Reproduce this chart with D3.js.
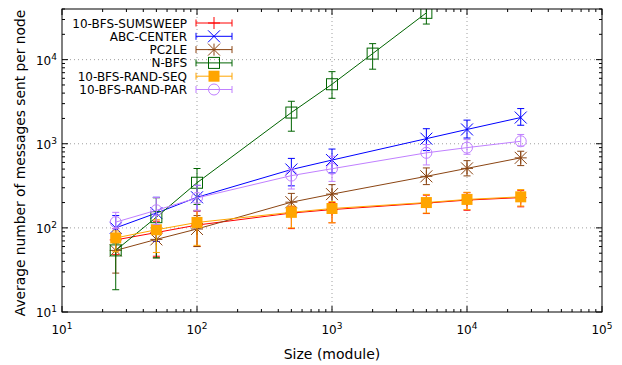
<!DOCTYPE html>
<html>
<head>
<meta charset="utf-8">
<script src="https://cdn.jsdelivr.net/npm/d3@7"></script>
<style>
  body { margin: 0; background: #fff; }
  svg { font-family: "DejaVu Sans", sans-serif; }
</style>
</head>
<body>
<div id="chart"></div>
<script>
// Sizes (module) used for each series
const sizes = [25, 50, 100, 500, 1000, 5000, 10000, 25000];
const sizesNbfs = [25, 50, 100, 500, 1000, 2000, 5000];

// Average messages per node, with error bar low / high
const sumsweep = [72, 88, 108, 150, 165, 197, 214, 229];
const sumsweepLo = [48, 46, 60, 98, 115, 148, 162, 178];
const sumsweepHi = [98, 120, 158, 178, 200, 245, 262, 280];

const abcCenter = [100, 150, 231, 494, 640, 1150, 1480, 2050];
const abcCenterLo = [75, 69, 160, 316, 450, 830, 1170, 1660];
const abcCenterHi = [140, 231, 320, 670, 865, 1510, 1910, 2620];

const pc2le = [54, 73, 97, 202, 252, 410, 510, 680];
const pc2leLo = [29, 44, 60, 152, 190, 327, 415, 550];
const pc2leHi = [75, 100, 140, 257, 327, 516, 630, 815];

const nbfs = [54, 134, 344, 2350, 5100, 11800, 36000];
const nbfsLo = [18.4, 44, 190, 1410, 3470, 7700, 26500];
const nbfsHi = [66, 228, 508, 3200, 7200, 15500, 45000];

const randSeq = [76, 95, 116, 153, 170, 200, 218, 234];
const randSeqLo = [52, 51, 62, 100, 115, 150, 165, 182];
const randSeqHi = [92, 125, 162, 182, 205, 250, 265, 285];

const randPar = [117, 162, 227, 418, 505, 780, 900, 1070];
const randParLo = [98, 110, 160, 290, 357, 560, 750, 940];
const randParHi = [153, 230, 320, 510, 710, 980, 1120, 1290];

const xTicks = [10, 100, 1000, 10000, 100000];
const yTicks = [10, 100, 1000, 10000];

const series = [
  { name: '10-BFS-SUMSWEEP', color: '#ff0000', pt: 'plus', x: sizes, y: sumsweep, lo: sumsweepLo, hi: sumsweepHi },
  { name: 'ABC-CENTER', color: '#0000ff', pt: 'cross', x: sizes, y: abcCenter, lo: abcCenterLo, hi: abcCenterHi },
  { name: 'PC2LE', color: '#8b4513', pt: 'star', x: sizes, y: pc2le, lo: pc2leLo, hi: pc2leHi },
  { name: 'N-BFS', color: '#006400', pt: 'square', x: sizesNbfs, y: nbfs, lo: nbfsLo, hi: nbfsHi },
  { name: '10-BFS-RAND-SEQ', color: '#ffa500', pt: 'fsquare', x: sizes, y: randSeq, lo: randSeqLo, hi: randSeqHi },
  { name: '10-BFS-RAND-PAR', color: '#c080ff', pt: 'circle', x: sizes, y: randPar, lo: randParLo, hi: randParHi },
];

const width = 622, height = 365;
const mLeft = 62, mRight = 602, mTop = 9, mBottom = 312;

const svg = d3.select('#chart').append('svg')
  .attr('width', width).attr('height', height);

const x = d3.scaleLog().domain([10, 100000]).range([mLeft, mRight]);
const y = d3.scaleLog().domain([10, 40000]).range([mBottom, mTop]);

// grid
const grid = svg.append('g').attr('stroke', '#a0a0a0').attr('stroke-dasharray', '1,3').attr('stroke-width', 1);
xTicks.slice(1, -1).forEach(t => {
  grid.append('line').attr('x1', x(t)).attr('x2', x(t)).attr('y1', mTop).attr('y2', mBottom);
});
yTicks.slice(1).forEach(t => {
  grid.append('line').attr('x1', mLeft).attr('x2', mRight).attr('y1', y(t)).attr('y2', y(t));
});

// ticks (inward, mirrored)
const tickG = svg.append('g').attr('stroke', '#000').attr('stroke-width', 1);
const xMinor = [];
for (let d = 10; d < 100000; d *= 10) for (let k = 2; k <= 9; k++) xMinor.push(d * k);
const yMinor = [];
for (let d = 10; d < 40000; d *= 10) for (let k = 2; k <= 9; k++) if (d * k <= 40000) yMinor.push(d * k);

xTicks.forEach(t => {
  tickG.append('line').attr('x1', x(t)).attr('x2', x(t)).attr('y1', mBottom).attr('y2', mBottom - 6);
  tickG.append('line').attr('x1', x(t)).attr('x2', x(t)).attr('y1', mTop).attr('y2', mTop + 6);
});
xMinor.forEach(t => {
  tickG.append('line').attr('x1', x(t)).attr('x2', x(t)).attr('y1', mBottom).attr('y2', mBottom - 3);
  tickG.append('line').attr('x1', x(t)).attr('x2', x(t)).attr('y1', mTop).attr('y2', mTop + 3);
});
yTicks.forEach(t => {
  tickG.append('line').attr('x1', mLeft).attr('x2', mLeft + 6).attr('y1', y(t)).attr('y2', y(t));
  tickG.append('line').attr('x1', mRight).attr('x2', mRight - 6).attr('y1', y(t)).attr('y2', y(t));
});
yMinor.forEach(t => {
  tickG.append('line').attr('x1', mLeft).attr('x2', mLeft + 3).attr('y1', y(t)).attr('y2', y(t));
  tickG.append('line').attr('x1', mRight).attr('x2', mRight - 3).attr('y1', y(t)).attr('y2', y(t));
});

// tick labels with superscripts
function powLabel(g, v) {
  const e = Math.round(Math.log10(v));
  g.append('tspan').text('10');
  g.append('tspan').attr('dy', -5).attr('font-size', 9).text(e);
}
xTicks.forEach(t => {
  const tx = svg.append('text').attr('x', x(t)).attr('y', 334)
    .attr('text-anchor', 'middle').attr('font-size', 12);
  powLabel(tx, t);
});
yTicks.forEach(t => {
  const tx = svg.append('text').attr('x', 57).attr('y', y(t) + 5)
    .attr('text-anchor', 'end').attr('font-size', 12);
  powLabel(tx, t);
});

// axis labels
svg.append('text').attr('x', (mLeft + mRight) / 2).attr('y', 359)
  .attr('text-anchor', 'middle').attr('font-size', 14).text('Size (module)');
svg.append('text').attr('transform', `translate(25,163) rotate(-90)`)
  .attr('text-anchor', 'middle').attr('font-size', 13.8).text('Average number of messages sent per node');

// clip
svg.append('clipPath').attr('id', 'clip').append('rect')
  .attr('x', mLeft).attr('y', mTop).attr('width', mRight - mLeft).attr('height', mBottom - mTop);

function drawPoint(g, type, cx, cy, color) {
  const s = 6;
  if (type === 'plus') {
    g.append('path').attr('d', `M${cx - s},${cy}H${cx + s}M${cx},${cy - s}V${cy + s}`).attr('stroke', color).attr('fill', 'none');
  } else if (type === 'cross') {
    g.append('path').attr('d', `M${cx - s},${cy - s}L${cx + s},${cy + s}M${cx - s},${cy + s}L${cx + s},${cy - s}`).attr('stroke', color).attr('fill', 'none');
  } else if (type === 'star') {
    g.append('path').attr('d', `M${cx - s},${cy}H${cx + s}M${cx},${cy - s}V${cy + s}M${cx - s},${cy - s}L${cx + s},${cy + s}M${cx - s},${cy + s}L${cx + s},${cy - s}`).attr('stroke', color).attr('fill', 'none');
  } else if (type === 'square') {
    g.append('rect').attr('x', cx - 5.5).attr('y', cy - 5.5).attr('width', 11).attr('height', 11).attr('stroke', color).attr('fill', 'none');
  } else if (type === 'fsquare') {
    g.append('rect').attr('x', cx - 5.5).attr('y', cy - 5.5).attr('width', 11).attr('height', 11).attr('fill', color);
  } else if (type === 'circle') {
    g.append('circle').attr('cx', cx).attr('cy', cy).attr('r', 5.5).attr('stroke', color).attr('fill', 'none');
  }
}

const plot = svg.append('g').attr('clip-path', 'url(#clip)');
const line = d3.line().x(d => x(d[0])).y(d => y(d[1]));

series.forEach(s => {
  const g = plot.append('g');
  const pts = s.x.map((v, i) => [v, s.y[i]]);
  g.append('path').attr('d', line(pts)).attr('stroke', s.color).attr('fill', 'none').attr('stroke-width', 1);
  s.x.forEach((v, i) => {
    const cx = x(v);
    const y0 = y(s.lo[i]), y1 = y(s.hi[i]);
    g.append('path')
      .attr('d', `M${cx},${y0}V${y1}M${cx - 3.5},${y0}H${cx + 3.5}M${cx - 3.5},${y1}H${cx + 3.5}`)
      .attr('stroke', s.color).attr('fill', 'none').attr('stroke-width', 1);
    drawPoint(g, s.pt, cx, y(s.y[i]), s.color);
  });
});

// legend
const lg = svg.append('g');
series.forEach((s, i) => {
  const ly = 23 + i * 13.3;
  lg.append('text').attr('x', 187).attr('y', ly + 4.5).attr('text-anchor', 'end')
    .attr('font-size', 12).text(s.name);
  lg.append('path')
    .attr('d', `M196,${ly}H232M196,${ly - 3.5}V${ly + 3.5}M232,${ly - 3.5}V${ly + 3.5}`)
    .attr('stroke', s.color).attr('fill', 'none');
  drawPoint(lg, s.pt, 214, ly, s.color);
});

// border
svg.append('rect').attr('x', mLeft).attr('y', mTop).attr('width', mRight - mLeft).attr('height', mBottom - mTop)
  .attr('fill', 'none').attr('stroke', '#000').attr('stroke-width', 1);
</script>
</body>
</html>
